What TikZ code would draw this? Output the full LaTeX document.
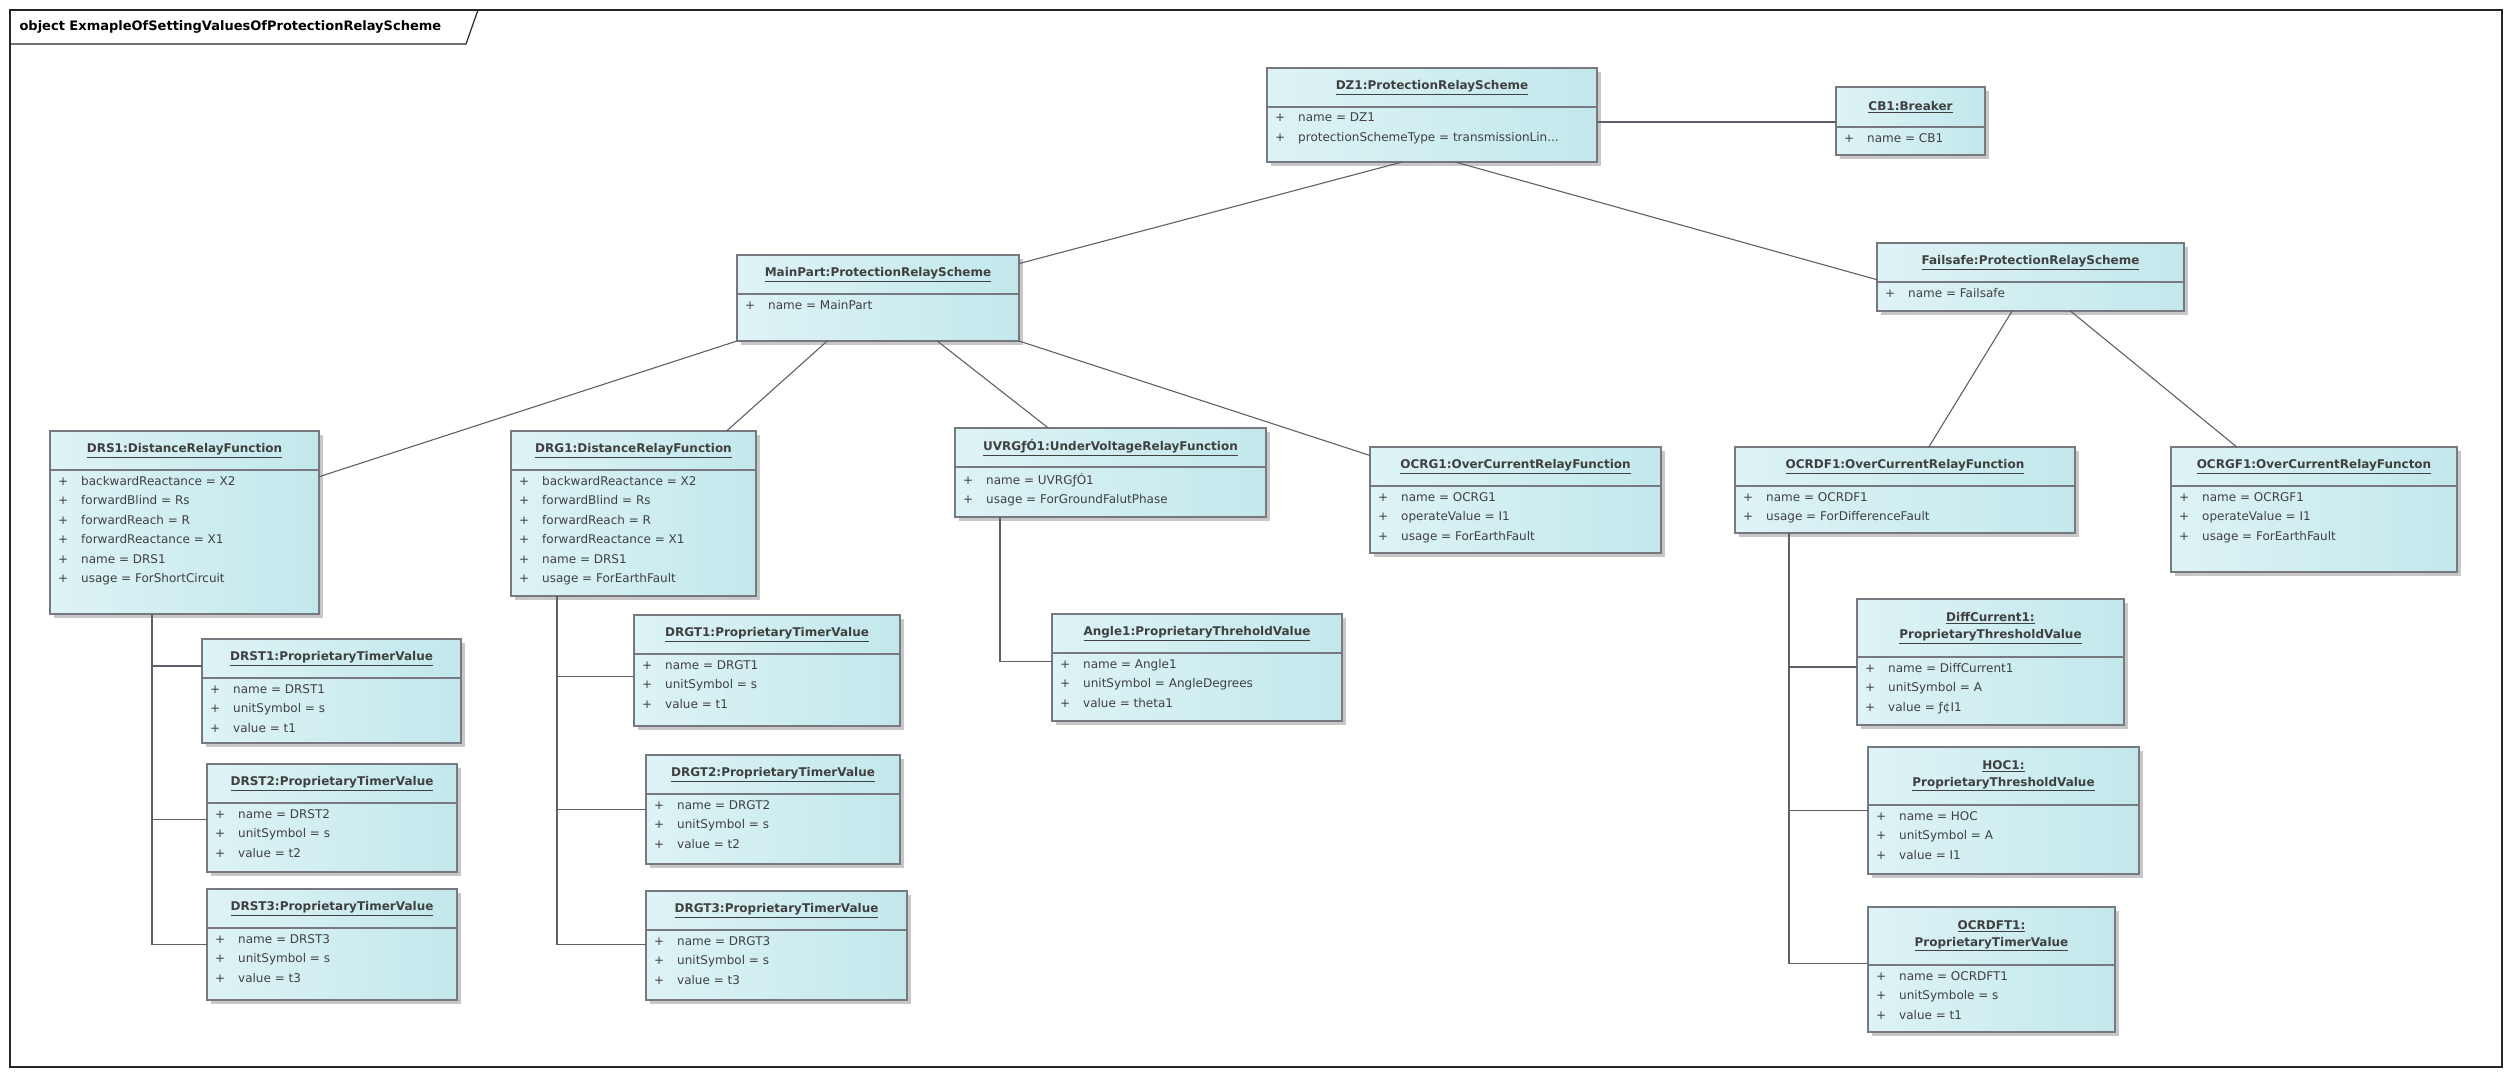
\documentclass[tikz,border=0pt]{standalone}
\usepackage{fontspec}
\setmainfont{DejaVu Sans}
\usetikzlibrary{calc,shadows}

\definecolor{objfillA}{RGB}{222,243,245}
\definecolor{objfillB}{RGB}{194,232,236}
\definecolor{objline}{RGB}{120,120,128}
\definecolor{linkline}{RGB}{95,95,105}

\tikzset{
  objbox/.style={draw=objline, line width=1.1pt, inner sep=0pt, outer sep=0pt,
    left color=objfillA, right color=objfillB,
    drop shadow={shadow xshift=4pt, shadow yshift=-4pt, fill=black!22, opacity=1}},
  objtitle/.style={font=\fontsize{12}{17}\selectfont\bfseries, text=black!75, align=center, inner sep=0pt},
  objattr/.style={font=\fontsize{12}{19.5}\selectfont, text=black!75, align=left, inner sep=0pt, anchor=north west},
  link/.style={draw=linkline, line width=1.1pt}
}

% name, left, top, right, bottom, header line, title, attributes
\newcommand{\objbox}[8]{%
  \node[objbox, minimum width={(#4-#2)*1pt}, minimum height={(#5-#3)*1pt}] (#1) at ({(#2+#4)/2},{(#3+#5)/2}) {};
  \draw[objline, line width=1.1pt] (#2,#6) -- (#4,#6);
  \node[objtitle] at ({(#2+#4)/2},{(#3+#6)/2}) {#7};
  \node[objattr] at (#2+8,#6+6) {#8};
}
\newcommand{\attr}[1]{\makebox[23pt][l]{+}#1}

\begin{document}
\begin{tikzpicture}[x=1pt, y=-1pt]
    \useasboundingbox (0,0) rectangle (2512,1076);

    % Frame
    \draw[black!85, line width=1.2pt] (10,10) rectangle (2502,1067);
    \draw[black!85, line width=1.2pt] (10,44) -- (466,44) -- (478,10);
    \node[anchor=west, font=\fontsize{13}{15}\selectfont\bfseries] (frame) at (16,27) {object ExmapleOfSettingValuesOfProtectionRelayScheme};

    % Objects
    \objbox{DZ1}{1267}{68}{1597}{162}{107}{\underline{DZ1:ProtectionRelayScheme}}
      {\attr{name = DZ1}\\\attr{protectionSchemeType = transmissionLin...}}
    \objbox{CB1}{1836}{87}{1985}{155}{127}{\underline{CB1:Breaker}}
      {\attr{name = CB1}}
    \objbox{MainPart}{737}{255}{1019}{341}{294}{\underline{MainPart:ProtectionRelayScheme}}
      {\attr{name = MainPart}}
    \objbox{Failsafe}{1877}{243}{2184}{311}{282}{\underline{Failsafe:ProtectionRelayScheme}}
      {\attr{name = Failsafe}}

    \objbox{DRS1}{50}{431}{319}{614}{470}{\underline{DRS1:DistanceRelayFunction}}
      {\attr{backwardReactance = X2}\\\attr{forwardBlind = Rs}\\\attr{forwardReach = R}\\\attr{forwardReactance = X1}\\\attr{name = DRS1}\\\attr{usage = ForShortCircuit}}
    \objbox{DRG1}{511}{431}{756}{596}{470}{\underline{DRG1:DistanceRelayFunction}}
      {\attr{backwardReactance = X2}\\\attr{forwardBlind = Rs}\\\attr{forwardReach = R}\\\attr{forwardReactance = X1}\\\attr{name = DRS1}\\\attr{usage = ForEarthFault}}
    \objbox{UVRG}{955}{428}{1266}{517}{467}{\underline{UVRGƒÓ1:UnderVoltageRelayFunction}}
      {\attr{name = UVRGƒÓ1}\\\attr{usage = ForGroundFalutPhase}}
    \objbox{OCRG1}{1370}{447}{1661}{553}{486}{\underline{OCRG1:OverCurrentRelayFunction}}
      {\attr{name = OCRG1}\\\attr{operateValue = I1}\\\attr{usage = ForEarthFault}}
    \objbox{OCRDF1}{1735}{447}{2075}{533}{486}{\underline{OCRDF1:OverCurrentRelayFunction}}
      {\attr{name = OCRDF1}\\\attr{usage = ForDifferenceFault}}
    \objbox{OCRGF1}{2171}{447}{2457}{572}{486}{\underline{OCRGF1:OverCurrentRelayFuncton}}
      {\attr{name = OCRGF1}\\\attr{operateValue = I1}\\\attr{usage = ForEarthFault}}

    \objbox{DRST1}{202}{639}{461}{743}{678}{\underline{DRST1:ProprietaryTimerValue}}
      {\attr{name = DRST1}\\\attr{unitSymbol = s}\\\attr{value = t1}}
    \objbox{DRST2}{207}{764}{457}{872}{803}{\underline{DRST2:ProprietaryTimerValue}}
      {\attr{name = DRST2}\\\attr{unitSymbol = s}\\\attr{value = t2}}
    \objbox{DRST3}{207}{889}{457}{1000}{928}{\underline{DRST3:ProprietaryTimerValue}}
      {\attr{name = DRST3}\\\attr{unitSymbol = s}\\\attr{value = t3}}
    \objbox{DRGT1}{634}{615}{900}{726}{654}{\underline{DRGT1:ProprietaryTimerValue}}
      {\attr{name = DRGT1}\\\attr{unitSymbol = s}\\\attr{value = t1}}
    \objbox{DRGT2}{646}{755}{900}{864}{794}{\underline{DRGT2:ProprietaryTimerValue}}
      {\attr{name = DRGT2}\\\attr{unitSymbol = s}\\\attr{value = t2}}
    \objbox{DRGT3}{646}{891}{907}{1000}{930}{\underline{DRGT3:ProprietaryTimerValue}}
      {\attr{name = DRGT3}\\\attr{unitSymbol = s}\\\attr{value = t3}}
    \objbox{Angle1}{1052}{614}{1342}{721}{653}{\underline{Angle1:ProprietaryThreholdValue}}
      {\attr{name = Angle1}\\\attr{unitSymbol = AngleDegrees}\\\attr{value = theta1}}
    \objbox{DiffCurrent1}{1857}{599}{2124}{725}{657}{\underline{DiffCurrent1:}\\\underline{ProprietaryThresholdValue}}
      {\attr{name = DiffCurrent1}\\\attr{unitSymbol = A}\\\attr{value = ƒ¢I1}}
    \objbox{HOC1}{1868}{747}{2139}{874}{805}{\underline{HOC1:}\\\underline{ProprietaryThresholdValue}}
      {\attr{name = HOC}\\\attr{unitSymbol = A}\\\attr{value = I1}}
    \objbox{OCRDFT1}{1868}{907}{2115}{1032}{965}{\underline{OCRDFT1:}\\\underline{ProprietaryTimerValue}}
      {\attr{name = OCRDFT1}\\\attr{unitSymbole = s}\\\attr{value = t1}}

    % Links
    \draw[link] (DZ1.east |- 0,122) -- (CB1.west |- 0,122);
    \draw[link] ($(DZ1.south west)!0.41!(DZ1.south east)$) -- ($(MainPart.north east)!0.1!(MainPart.south east)$);
    \draw[link] ($(DZ1.south west)!0.57!(DZ1.south east)$) -- ($(Failsafe.north west)!0.54!(Failsafe.south west)$);

    \draw[link] (MainPart.south west) -- ($(DRS1.north east)!0.25!(DRS1.south east)$);
    \draw[link] ($(MainPart.south west)!0.32!(MainPart.south east)$) -- ($(DRG1.north west)!0.88!(DRG1.north east)$);
    \draw[link] ($(MainPart.south west)!0.71!(MainPart.south east)$) -- ($(UVRG.north west)!0.3!(UVRG.north east)$);
    \draw[link] (MainPart.south east) -- ($(OCRG1.north west)!0.08!(OCRG1.south west)$);

    \draw[link] ($(Failsafe.south west)!0.44!(Failsafe.south east)$) -- ($(OCRDF1.north west)!0.57!(OCRDF1.north east)$);
    \draw[link] ($(Failsafe.south west)!0.63!(Failsafe.south east)$) -- ($(OCRGF1.north west)!0.23!(OCRGF1.north east)$);

    % Value links
    \coordinate (drsbus) at ($(DRS1.south west)+(102,0)$);
    \draw[link] (drsbus) |- ($(DRST1.north west)!0.26!(DRST1.south west)$);
    \draw[link] (drsbus) |- ($(DRST2.north west)!0.51!(DRST2.south west)$);
    \draw[link] (drsbus) |- ($(DRST3.north west)!0.5!(DRST3.south west)$);

    \coordinate (drgbus) at ($(DRG1.south west)+(46,0)$);
    \draw[link] (drgbus) |- ($(DRGT1.north west)!0.55!(DRGT1.south west)$);
    \draw[link] (drgbus) |- ($(DRGT2.north west)!0.5!(DRGT2.south west)$);
    \draw[link] (drgbus) |- ($(DRGT3.north west)!0.49!(DRGT3.south west)$);

    \coordinate (uvrgbus) at ($(UVRG.south west)+(45,0)$);
    \draw[link] (uvrgbus) |- ($(Angle1.north west)!0.44!(Angle1.south west)$);

    \coordinate (ocrdfbus) at ($(OCRDF1.south west)+(54,0)$);
    \draw[link] (ocrdfbus) |- ($(DiffCurrent1.north west)!0.54!(DiffCurrent1.south west)$);
    \draw[link] (ocrdfbus) |- ($(HOC1.north west)!0.5!(HOC1.south west)$);
    \draw[link] (ocrdfbus) |- ($(OCRDFT1.north west)!0.45!(OCRDFT1.south west)$);
\end{tikzpicture}
\end{document}
